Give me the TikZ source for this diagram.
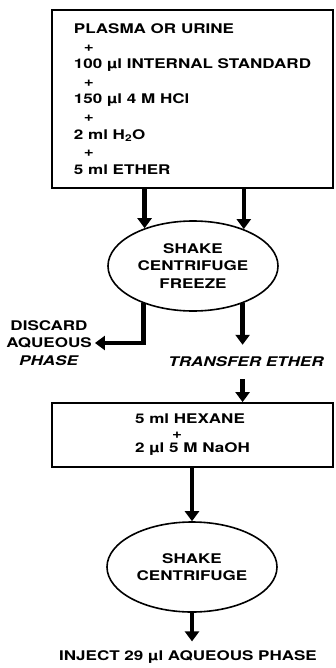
\documentclass[tikz,border=0pt]{standalone}
\usepackage{fontspec}
\setmainfont{TeX Gyre Heros}[FakeStretch=1.28]
\usetikzlibrary{arrows.meta,shapes.geometric}
\tikzset{
  stepbox/.style={draw, line width=1.8pt, minimum width=281pt, align=left, inner sep=0pt},
  oval/.style={draw, ellipse, line width=1.6pt, align=center, inner sep=0pt, minimum width=170pt, minimum height=90pt},
  flow/.style={line width=4.5pt, -{Triangle[width=14pt,length=10pt]}}
}
\begin{document}
\begin{tikzpicture}[x=1pt,y=-1pt,font=\fontsize{13.3}{17.6}\selectfont\bfseries]
\useasboundingbox (0,0) rectangle (336,668);
\node[stepbox, minimum height=178pt] (mix) at (192.5,99) {PLASMA OR URINE\\\hspace*{10pt}+\\100 µl INTERNAL STANDARD\\\hspace*{10pt}+\\150 µl 4 M HCl\\\hspace*{10pt}+\\2 ml H\textsubscript{2}O\\\hspace*{10pt}+\\5 ml ETHER};
\node[oval] (shake1) at (193,266) {SHAKE\\CENTRIFUGE\\FREEZE};
\node[align=center, inner xsep=3pt] (discard) at (49,343) {DISCARD\\AQUEOUS\\\textit{PHASE}};
\node[inner ysep=12pt, font=\fontsize{13.3}{17.6}\selectfont\bfseries\itshape] (xfer) at (246,362) {TRANSFER ETHER};
\node[stepbox, minimum height=64pt, font=\fontsize{13.3}{14.5}\selectfont\bfseries] (hex) at (192.5,435) {5 ml HEXANE\\\hspace*{37pt}+\\2 µl 5 M NaOH};
\node[oval] (shake2) at (192,567) {SHAKE\\CENTRIFUGE};
\node[inner ysep=9pt] (inject) at (188,657) {INJECT 29 µl AQUEOUS PHASE};
\foreach \a in {142.9,36.3} {\draw[flow] (mix.south -| shake1.\a) -- (shake1.\a);}
\draw[flow] (shake1.217.1) |- (discard.east);
\draw[flow] (shake1.323.7) -- (xfer.north -| shake1.323.7);
\draw[flow] (xfer.south -| shake1.323.7) -- (hex.north -| shake1.323.7);
\draw[flow] (hex.south -| shake2.north) -- (shake2.north);
\draw[flow] (shake2.south) -- (inject.north -| shake2.south);
\end{tikzpicture}
\end{document}
